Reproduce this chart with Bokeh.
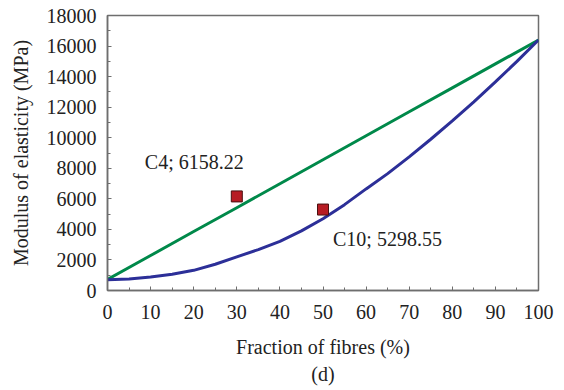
from bokeh.plotting import figure
from bokeh.models import Label, Range1d, FixedTicker, Title
from bokeh.embed import file_html
from bokeh.resources import INLINE

# data
fraction = [0, 10, 20, 30, 40, 50, 60, 70, 80, 90, 100]
modulus_upper = [720, 2290, 3860, 5420, 6990, 8560, 10130, 11700, 13260, 14830, 16400]
fraction_fine = [0, 5, 10, 15, 20, 25, 30, 35, 40, 45, 50, 55, 60, 65, 70, 75, 80, 85, 90, 95, 100]
modulus_lower = [700, 760, 880, 1060, 1320, 1720, 2200, 2680, 3220, 3900, 4700, 5620, 6650,
                 7650, 8750, 9900, 11100, 12350, 13650, 15000, 16400]
sample_x = [30, 50]
sample_y = [6158.22, 5298.55]
sample_names = ["C4; 6158.22", "C10; 5298.55"]
x_ticks = [0, 10, 20, 30, 40, 50, 60, 70, 80, 90, 100]
y_ticks = [0, 2000, 4000, 6000, 8000, 10000, 12000, 14000, 16000, 18000]

FONT = "Liberation Serif"
FS = "20px"

p = figure(width=564, height=390, output_backend="svg", toolbar_location=None,
           x_range=Range1d(0, 100), y_range=Range1d(0, 18000),
           min_border_left=107, min_border_right=26, min_border_top=15, min_border_bottom=100,
           background_fill_color="white", border_fill_color="white")
p.grid.visible = False
p.outline_line_color = "#6e6e6e"
p.outline_line_width = 1.5

for ax in (p.xaxis[0], p.yaxis[0]):
    ax.axis_line_color = "#6e6e6e"
    ax.axis_line_width = 1.5
    ax.major_tick_in = 4
    ax.major_tick_out = 0
    ax.minor_tick_in = 3
    ax.minor_tick_out = 0
    ax.major_tick_line_color = "#6e6e6e"
    ax.minor_tick_line_color = "#6e6e6e"
    ax.major_label_text_font = FONT
    ax.major_label_text_font_size = FS
    ax.major_label_text_color = "#222222"
    ax.axis_label_text_font = FONT
    ax.axis_label_text_font_size = FS
    ax.axis_label_text_font_style = "normal"
    ax.axis_label_text_color = "#222222"

p.xaxis[0].ticker = FixedTicker(ticks=x_ticks, minor_ticks=[v + 5 for v in x_ticks[:-1]])
p.yaxis[0].ticker = FixedTicker(ticks=y_ticks, minor_ticks=[v + 1000 for v in y_ticks[:-1]])
p.xaxis[0].axis_label = "Fraction of fibres (%)"
p.yaxis[0].axis_label = "Modulus of elasticity (MPa)"
p.xaxis[0].major_label_standoff = 14
p.xaxis[0].axis_label_standoff = 14
p.yaxis[0].major_label_standoff = 11
p.yaxis[0].axis_label_standoff = 12

p.line(fraction, modulus_upper, line_color="#00894a", line_width=3)
p.line(fraction_fine, modulus_lower, line_color="#2c2f98", line_width=3)
p.scatter(sample_x, sample_y, marker="square", size=11, fill_color="#b71c24",
          line_color="#4a1010", line_width=1)

p.add_layout(Label(x=sample_x[0], y=sample_y[0], text=sample_names[0], x_offset=-92, y_offset=34,
                   text_font=FONT, text_font_size=FS, text_color="#222222",
                   text_baseline="middle", text_align="left"))
p.add_layout(Label(x=sample_x[1], y=sample_y[1], text=sample_names[1], x_offset=10, y_offset=-29,
                   text_font=FONT, text_font_size=FS, text_color="#222222",
                   text_baseline="middle", text_align="left"))
p.add_layout(Title(text="(d)", align="center", text_font=FONT, text_font_size=FS,
                   text_font_style="normal", text_color="#222222", standoff=0, offset=0),
             "below")

open("out.html", "w").write(file_html(p, INLINE))
